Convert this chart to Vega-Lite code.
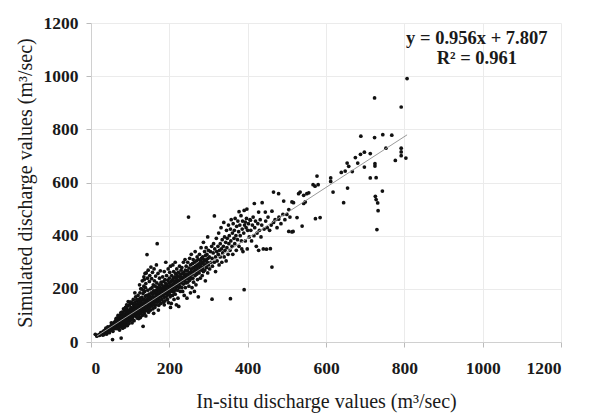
{
  "$schema": "https://vega.github.io/schema/vega-lite/v6.json",
  "width": 470,
  "height": 319,
  "padding": {"left": 15, "top": 14, "right": 5, "bottom": 5},
  "background": "white",
  "config": {
    "view": {"stroke": null},
    "font": "Liberation Serif",
    "axis": {
      "labelFont": "Liberation Serif",
      "titleFont": "Liberation Serif",
      "labelFontWeight": "bold",
      "labelFontSize": 17.5,
      "labelColor": "#1a1a1a",
      "titleFontSize": 20,
      "titleFontWeight": "normal",
      "titleColor": "#1a1a1a",
      "gridColor": "#ebebeb",
      "gridWidth": 1,
      "domainColor": "#d0d0d0",
      "tickColor": "#bbbbbb",
      "tickSize": 5,
      "format": "d"
    }
  },
  "datasets": {
    "pts": [
      {"x":15,"y":22},{"x":20,"y":28},{"x":22,"y":25},{"x":25,"y":35},{"x":27,"y":30},{"x":30,"y":38},{"x":30,"y":26},{"x":33,"y":42},{"x":35,"y":33},{"x":36,"y":45},{"x":38,"y":40},{"x":40,"y":30},{"x":40,"y":50},{"x":42,"y":44},{"x":44,"y":38},{"x":45,"y":55},{"x":46,"y":48},{"x":48,"y":42},{"x":50,"y":60},{"x":50,"y":52},{"x":52,"y":46},{"x":53,"y":64},{"x":55,"y":55},{"x":55,"y":9},{"x":56,"y":40},{"x":57,"y":70},{"x":58,"y":62},{"x":60,"y":50},{"x":60,"y":75},{"x":58,"y":58},{"x":47,"y":35},{"x":43,"y":57},{"x":52,"y":72},{"x":38,"y":52},{"x":33,"y":28},{"x":11,"y":29},
      {"x":62,"y":68},{"x":62,"y":58},{"x":63,"y":80},{"x":64,"y":55},{"x":65,"y":72},{"x":65,"y":62},{"x":66,"y":90},{"x":67,"y":50},{"x":68,"y":78},{"x":68,"y":66},{"x":70,"y":85},{"x":70,"y":60},{"x":70,"y":72},{"x":71,"y":95},{"x":72,"y":55},{"x":72,"y":80},{"x":73,"y":68},{"x":74,"y":88},{"x":75,"y":74},{"x":75,"y":62},{"x":75,"y":100},{"x":76,"y":82},{"x":77,"y":15},{"x":77,"y":92},{"x":78,"y":70},{"x":78,"y":58},{"x":79,"y":105},{"x":80,"y":80},{"x":80,"y":66},{"x":80,"y":95},{"x":81,"y":88},{"x":82,"y":74},{"x":82,"y":110},{"x":83,"y":60},{"x":84,"y":98},{"x":84,"y":84},{"x":85,"y":78},{"x":85,"y":120},{"x":86,"y":68},{"x":86,"y":92},{"x":87,"y":104},{"x":88,"y":82},{"x":88,"y":72},{"x":89,"y":115},{"x":90,"y":96},{"x":90,"y":86},{"x":90,"y":64},{"x":91,"y":125},{"x":92,"y":100},{"x":92,"y":78},{"x":93,"y":108},{"x":94,"y":90},{"x":94,"y":135},{"x":95,"y":74},{"x":95,"y":118},{"x":96,"y":98},{"x":96,"y":84},{"x":97,"y":112},{"x":98,"y":140},{"x":98,"y":92},{"x":99,"y":80},{"x":99,"y":122},{"x":100,"y":104},{"x":100,"y":88},{"x":100,"y":150},{"x":69,"y":100},{"x":73,"y":45},{"x":81,"y":52},{"x":88,"y":130},{"x":93,"y":62},{"x":97,"y":70},{"x":66,"y":82},{"x":79,"y":112},{"x":86,"y":56},{"x":91,"y":140},{"x":95,"y":152},{"x":83,"y":125},{"x":76,"y":110},{"x":71,"y":78},{"x":64,"y":88},
      {"x":101,"y":95},{"x":102,"y":112},{"x":102,"y":130},{"x":103,"y":84},{"x":104,"y":120},{"x":104,"y":100},{"x":105,"y":145},{"x":106,"y":90},{"x":106,"y":110},{"x":107,"y":128},{"x":108,"y":160},{"x":108,"y":98},{"x":109,"y":118},{"x":110,"y":105},{"x":110,"y":138},{"x":110,"y":80},{"x":111,"y":122},{"x":112,"y":150},{"x":112,"y":100},{"x":113,"y":132},{"x":114,"y":112},{"x":114,"y":170},{"x":115,"y":96},{"x":115,"y":125},{"x":116,"y":142},{"x":116,"y":108},{"x":117,"y":118},{"x":118,"y":155},{"x":118,"y":90},{"x":119,"y":130},{"x":120,"y":110},{"x":120,"y":145},{"x":120,"y":175},{"x":121,"y":100},{"x":121,"y":122},{"x":122,"y":136},{"x":123,"y":160},{"x":123,"y":115},{"x":124,"y":105},{"x":124,"y":148},{"x":125,"y":128},{"x":125,"y":185},{"x":126,"y":118},{"x":126,"y":92},{"x":127,"y":140},{"x":128,"y":155},{"x":128,"y":110},{"x":129,"y":132},{"x":129,"y":200},{"x":130,"y":120},{"x":130,"y":168},{"x":130,"y":145},{"x":131,"y":100},{"x":131,"y":230},{"x":132,"y":138},{"x":132,"y":125},{"x":133,"y":59},{"x":133,"y":158},{"x":133,"y":182},{"x":134,"y":115},{"x":134,"y":146},{"x":135,"y":210},{"x":135,"y":130},{"x":135,"y":245},{"x":136,"y":160},{"x":136,"y":108},{"x":137,"y":140},{"x":137,"y":190},{"x":138,"y":125},{"x":138,"y":258},{"x":138,"y":152},{"x":139,"y":118},{"x":139,"y":172},{"x":140,"y":135},{"x":140,"y":220},{"x":140,"y":98},{"x":105,"y":72},{"x":112,"y":185},{"x":117,"y":160},{"x":122,"y":88},{"x":127,"y":200},{"x":103,"y":150},{"x":109,"y":140},{"x":114,"y":135},{"x":119,"y":98},{"x":126,"y":165},{"x":134,"y":195},{"x":136,"y":235},{"x":139,"y":205},{"x":124,"y":215},
      {"x":141,"y":148},{"x":141,"y":260},{"x":142,"y":130},{"x":142,"y":175},{"x":143,"y":329},{"x":143,"y":160},{"x":144,"y":122},{"x":144,"y":240},{"x":145,"y":150},{"x":145,"y":195},{"x":146,"y":138},{"x":146,"y":270},{"x":147,"y":165},{"x":147,"y":112},{"x":148,"y":180},{"x":148,"y":145},{"x":149,"y":228},{"x":149,"y":130},{"x":150,"y":158},{"x":150,"y":250},{"x":150,"y":172},{"x":151,"y":140},{"x":152,"y":200},{"x":152,"y":120},{"x":153,"y":162},{"x":153,"y":282},{"x":154,"y":150},{"x":154,"y":185},{"x":155,"y":135},{"x":155,"y":238},{"x":156,"y":170},{"x":156,"y":205},{"x":157,"y":145},{"x":157,"y":262},{"x":158,"y":180},{"x":158,"y":125},{"x":159,"y":158},{"x":159,"y":215},{"x":160,"y":192},{"x":160,"y":140},{"x":161,"y":168},{"x":161,"y":275},{"x":162,"y":150},{"x":162,"y":230},{"x":163,"y":185},{"x":163,"y":130},{"x":164,"y":170},{"x":164,"y":210},{"x":165,"y":155},{"x":165,"y":248},{"x":166,"y":195},{"x":166,"y":140},{"x":167,"y":178},{"x":167,"y":290},{"x":168,"y":162},{"x":168,"y":222},{"x":169,"y":370},{"x":169,"y":188},{"x":170,"y":150},{"x":170,"y":205},{"x":171,"y":172},{"x":171,"y":258},{"x":172,"y":160},{"x":172,"y":198},{"x":173,"y":182},{"x":173,"y":138},{"x":174,"y":215},{"x":174,"y":168},{"x":175,"y":192},{"x":175,"y":240},{"x":176,"y":155},{"x":176,"y":178},{"x":177,"y":205},{"x":177,"y":268},{"x":178,"y":170},{"x":178,"y":145},{"x":179,"y":188},{"x":179,"y":225},{"x":180,"y":175},{"x":180,"y":200},{"x":160,"y":108},{"x":172,"y":120},
      {"x":181,"y":160},{"x":181,"y":215},{"x":182,"y":190},{"x":183,"y":175},{"x":183,"y":245},{"x":184,"y":205},{"x":185,"y":150},{"x":185,"y":195},{"x":186,"y":228},{"x":186,"y":180},{"x":187,"y":168},{"x":187,"y":265},{"x":188,"y":210},{"x":188,"y":190},{"x":189,"y":155},{"x":189,"y":235},{"x":190,"y":198},{"x":190,"y":182},{"x":191,"y":220},{"x":191,"y":300},{"x":192,"y":170},{"x":192,"y":205},{"x":193,"y":250},{"x":193,"y":188},{"x":194,"y":215},{"x":195,"y":160},{"x":195,"y":195},{"x":196,"y":232},{"x":196,"y":178},{"x":197,"y":275},{"x":197,"y":208},{"x":198,"y":190},{"x":198,"y":148},{"x":199,"y":222},{"x":200,"y":205},{"x":200,"y":240},{"x":200,"y":180},{"x":201,"y":262},{"x":202,"y":195},{"x":202,"y":170},{"x":203,"y":215},{"x":203,"y":285},{"x":204,"y":228},{"x":205,"y":190},{"x":205,"y":145},{"x":206,"y":210},{"x":206,"y":250},{"x":207,"y":198},{"x":208,"y":232},{"x":208,"y":175},{"x":209,"y":218},{"x":209,"y":290},{"x":210,"y":205},{"x":210,"y":240},{"x":211,"y":188},{"x":211,"y":265},{"x":212,"y":222},{"x":212,"y":160},{"x":213,"y":210},{"x":214,"y":245},{"x":214,"y":195},{"x":215,"y":230},{"x":215,"y":180},{"x":216,"y":258},{"x":216,"y":215},{"x":217,"y":205},{"x":218,"y":240},{"x":218,"y":140},{"x":219,"y":225},{"x":219,"y":275},{"x":220,"y":210},{"x":220,"y":250},{"x":221,"y":195},{"x":222,"y":232},{"x":222,"y":165},{"x":223,"y":262},{"x":224,"y":220},{"x":224,"y":134},{"x":225,"y":245},{"x":225,"y":205},{"x":226,"y":285},{"x":226,"y":228},{"x":227,"y":210},{"x":228,"y":255},{"x":228,"y":190},{"x":229,"y":238},{"x":230,"y":222},{"x":230,"y":270},{"x":187,"y":140},{"x":203,"y":130},{"x":215,"y":300},
      {"x":231,"y":245},{"x":232,"y":205},{"x":232,"y":280},{"x":233,"y":230},{"x":234,"y":258},{"x":234,"y":190},{"x":235,"y":240},{"x":236,"y":300},{"x":236,"y":218},{"x":237,"y":262},{"x":238,"y":235},{"x":238,"y":175},{"x":239,"y":250},{"x":240,"y":228},{"x":240,"y":310},{"x":241,"y":270},{"x":241,"y":205},{"x":242,"y":245},{"x":243,"y":285},{"x":243,"y":222},{"x":244,"y":255},{"x":245,"y":238},{"x":245,"y":165},{"x":246,"y":268},{"x":247,"y":225},{"x":247,"y":300},{"x":248,"y":252},{"x":249,"y":470},{"x":249,"y":240},{"x":250,"y":278},{"x":250,"y":210},{"x":251,"y":260},{"x":252,"y":232},{"x":252,"y":315},{"x":253,"y":248},{"x":254,"y":290},{"x":254,"y":185},{"x":255,"y":265},{"x":256,"y":240},{"x":256,"y":330},{"x":257,"y":275},{"x":258,"y":255},{"x":258,"y":205},{"x":259,"y":295},{"x":260,"y":262},{"x":260,"y":240},{"x":261,"y":310},{"x":262,"y":280},{"x":262,"y":225},{"x":263,"y":265},{"x":264,"y":300},{"x":264,"y":190},{"x":265,"y":270},{"x":266,"y":250},{"x":266,"y":340},{"x":267,"y":285},{"x":268,"y":262},{"x":268,"y":215},{"x":269,"y":305},{"x":270,"y":278},{"x":270,"y":255},{"x":271,"y":320},{"x":272,"y":290},{"x":272,"y":235},{"x":273,"y":270},{"x":274,"y":310},{"x":274,"y":170},{"x":275,"y":285},{"x":276,"y":260},{"x":277,"y":330},{"x":277,"y":295},{"x":278,"y":275},{"x":279,"y":240},{"x":280,"y":305},{"x":280,"y":285},{"x":281,"y":355},{"x":282,"y":270},{"x":282,"y":315},{"x":283,"y":295},{"x":284,"y":250},{"x":285,"y":320},{"x":285,"y":280},{"x":286,"y":300},{"x":287,"y":375},{"x":287,"y":265},{"x":288,"y":310},{"x":289,"y":290},{"x":290,"y":340},{"x":290,"y":270},{"x":291,"y":305},{"x":292,"y":325},{"x":292,"y":230},{"x":293,"y":290},{"x":294,"y":355},{"x":295,"y":310},{"x":295,"y":280},{"x":296,"y":330},{"x":297,"y":300},{"x":298,"y":395},{"x":298,"y":260},{"x":299,"y":315},{"x":300,"y":290},{"x":300,"y":345},
      {"x":302,"y":320},{"x":303,"y":275},{"x":305,"y":340},{"x":306,"y":300},{"x":308,"y":360},{"x":309,"y":161},{"x":309,"y":315},{"x":310,"y":285},{"x":312,"y":335},{"x":313,"y":370},{"x":315,"y":474},{"x":315,"y":300},{"x":316,"y":350},{"x":318,"y":320},{"x":318,"y":265},{"x":320,"y":390},{"x":321,"y":340},{"x":322,"y":305},{"x":324,"y":360},{"x":325,"y":330},{"x":326,"y":410},{"x":327,"y":290},{"x":328,"y":345},{"x":330,"y":370},{"x":330,"y":320},{"x":332,"y":430},{"x":333,"y":350},{"x":334,"y":300},{"x":335,"y":385},{"x":336,"y":335},{"x":338,"y":360},{"x":339,"y":450},{"x":340,"y":320},{"x":341,"y":395},{"x":342,"y":345},{"x":344,"y":375},{"x":345,"y":305},{"x":346,"y":420},{"x":347,"y":355},{"x":348,"y":390},{"x":350,"y":330},{"x":351,"y":440},{"x":352,"y":370},{"x":353,"y":400},{"x":355,"y":345},{"x":356,"y":163},{"x":356,"y":425},{"x":357,"y":380},{"x":358,"y":460},{"x":360,"y":360},{"x":361,"y":410},{"x":362,"y":330},{"x":363,"y":445},{"x":365,"y":390},{"x":366,"y":420},{"x":367,"y":370},{"x":368,"y":465},{"x":370,"y":400},{"x":371,"y":345},{"x":372,"y":435},{"x":374,"y":385},{"x":375,"y":455},{"x":377,"y":415},{"x":378,"y":360},{"x":380,"y":440},{"x":381,"y":400},{"x":383,"y":475},{"x":384,"y":380},{"x":386,"y":425},{"x":387,"y":455},{"x":388,"y":340},{"x":390,"y":410},{"x":391,"y":197},{"x":391,"y":495},{"x":392,"y":440},{"x":394,"y":380},{"x":396,"y":430},{"x":397,"y":465},{"x":399,"y":350},{"x":400,"y":420},{"x":398,"y":500},{"x":385,"y":350},{"x":378,"y":490},
      {"x":402,"y":445},{"x":404,"y":395},{"x":406,"y":460},{"x":408,"y":420},{"x":410,"y":380},{"x":412,"y":440},{"x":414,"y":470},{"x":416,"y":400},{"x":418,"y":430},{"x":420,"y":455},{"x":422,"y":360},{"x":424,"y":410},{"x":426,"y":445},{"x":428,"y":345},{"x":430,"y":420},{"x":432,"y":460},{"x":434,"y":395},{"x":436,"y":440},{"x":440,"y":350},{"x":442,"y":425},{"x":446,"y":455},{"x":448,"y":349},{"x":450,"y":430},{"x":452,"y":470},{"x":456,"y":420},{"x":458,"y":351},{"x":460,"y":440},{"x":462,"y":282},{"x":466,"y":450},{"x":470,"y":460},{"x":475,"y":430},{"x":480,"y":470},{"x":485,"y":445},{"x":490,"y":480},{"x":495,"y":460},{"x":505,"y":416},{"x":513,"y":414},{"x":508,"y":470},
      {"x":466,"y":564},{"x":479,"y":558},{"x":530,"y":558},{"x":551,"y":558},{"x":547,"y":527},{"x":517,"y":524},{"x":492,"y":530},{"x":437,"y":524},{"x":417,"y":521},{"x":462,"y":492},{"x":445,"y":489},{"x":505,"y":498},{"x":500,"y":480},{"x":479,"y":462},{"x":526,"y":468},{"x":428,"y":489},{"x":407,"y":458},{"x":394,"y":451},{"x":516,"y":416},
      {"x":513,"y":527},{"x":534,"y":564},{"x":539,"y":436},{"x":543,"y":552},{"x":543,"y":521},{"x":556,"y":561},{"x":567,"y":592},{"x":573,"y":464},{"x":585,"y":468},{"x":572,"y":586},{"x":577,"y":624},{"x":580,"y":592},{"x":612,"y":617},{"x":612,"y":604},{"x":618,"y":564},{"x":639,"y":638},{"x":645,"y":524},{"x":649,"y":643},{"x":654,"y":673},{"x":655,"y":579},{"x":658,"y":661},{"x":667,"y":641},{"x":675,"y":694},{"x":681,"y":673},{"x":688,"y":706},{"x":689,"y":774},{"x":698,"y":714},{"x":698,"y":658},{"x":713,"y":709},{"x":713,"y":617},{"x":724,"y":918},{"x":724,"y":769},{"x":725,"y":671},{"x":725,"y":662},{"x":726,"y":548},{"x":728,"y":618},{"x":728,"y":536},{"x":730,"y":423},{"x":732,"y":523},{"x":733,"y":494},{"x":744,"y":568},{"x":745,"y":780},{"x":753,"y":729},{"x":768,"y":778},{"x":777,"y":683},{"x":792,"y":884},{"x":792,"y":729},{"x":792,"y":715},{"x":792,"y":701},{"x":804,"y":692},{"x":807,"y":991}
    ],
    "fit": [{"x": 15, "y": 22.1}, {"x": 807, "y": 779.3}],
    "eq": [{"x": 985, "y": 1142, "t": "y = 0.956x + 7.807"}, {"x": 985, "y": 1068, "t": "R² = 0.961"}]
  },
  "layer": [
    {
      "data": {"name": "pts"},
      "mark": {"type": "circle", "size": 14, "color": "#111111", "opacity": 1},
      "encoding": {
        "x": {"field": "x", "type": "quantitative", "scale": {"domain": [0, 1200], "nice": false},
              "axis": {"values": [0, 200, 400, 600, 800, 1000, 1200], "title": "In-situ discharge values (m³/sec)", "labelPadding": 12, "titlePadding": 15}},
        "y": {"field": "y", "type": "quantitative", "scale": {"domain": [0, 1200], "nice": false},
              "axis": {"values": [0, 200, 400, 600, 800, 1000, 1200], "title": "Simulated discharge values (m³/sec)", "labelPadding": 8, "titlePadding": 8}}
      }
    },
    {
      "data": {"name": "fit"},
      "mark": {"type": "line", "color": "#9a9a9a", "strokeWidth": 1},
      "encoding": {
        "x": {"field": "x", "type": "quantitative"},
        "y": {"field": "y", "type": "quantitative"}
      }
    },
    {
      "data": {"name": "eq"},
      "mark": {"type": "text", "font": "Liberation Serif", "fontWeight": "bold", "fontSize": 18.5, "color": "#1a1a1a", "align": "center", "baseline": "middle"},
      "encoding": {
        "x": {"field": "x", "type": "quantitative"},
        "y": {"field": "y", "type": "quantitative"},
        "text": {"field": "t"}
      }
    }
  ]
}
